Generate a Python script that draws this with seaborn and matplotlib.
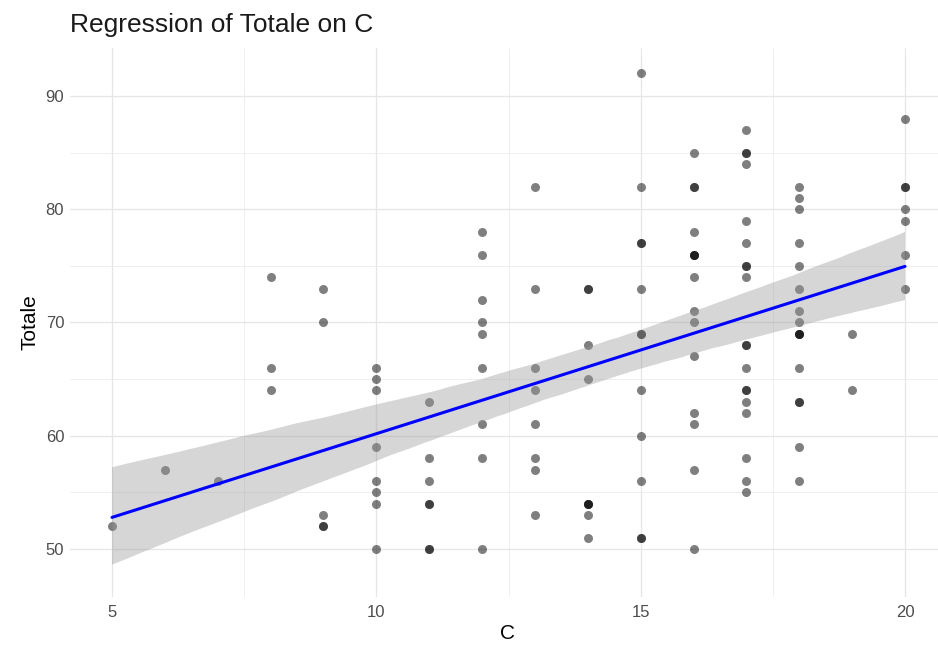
import numpy as np
import pandas as pd
import matplotlib
matplotlib.use("Agg")
import matplotlib.pyplot as plt
from matplotlib.ticker import MultipleLocator
import seaborn as sns

# values, grouped by C
C = ([5] + [6] + [7] + [8] * 3 + [9] * 5 + [10] * 8 + [11] * 7 + [12] * 9
     + [13] * 8 + [14] * 9 + [15] * 12 + [16] * 15 + [17] * 19 + [18] * 16
     + [19] * 2 + [20] * 7)
Totale = [
    52,
    57,
    56,
    74, 66, 64,
    73, 70, 53, 52, 52,
    66, 65, 64, 59, 56, 55, 54, 50,
    63, 58, 56, 54, 54, 50, 50,
    78, 76, 72, 70, 69, 66, 61, 58, 50,
    82, 73, 66, 64, 61, 58, 57, 53,
    73, 73, 68, 65, 54, 54, 54, 53, 51,
    92, 82, 77, 77, 73, 69, 69, 64, 60, 56, 51, 51,
    85, 82, 82, 78, 76, 76, 76, 74, 71, 70, 67, 62, 61, 57, 50,
    87, 85, 85, 84, 79, 77, 75, 75, 74, 68, 68, 66, 64, 64, 63, 62, 58, 56, 55,
    82, 81, 80, 77, 75, 73, 71, 70, 69, 69, 69, 66, 63, 63, 59, 56,
    69, 64,
    88, 82, 82, 80, 79, 76, 73,
]
x_ticks = [5, 10, 15, 20]
y_ticks = [50, 60, 70, 80, 90]

df = pd.DataFrame({"C": C, "Totale": Totale})

sns.set_theme(style="white")
plt.rcParams['font.family'] = ['Liberation Sans', 'DejaVu Sans']

W, H = 938, 649
xlo, xhi = 4.2, 20.75
ylo, yhi = 45.8, 94.2
# pixel placement of the panel (5 -> 112px, 20 -> 905px, 90 -> 96px, 50 -> 549px)
px_x = (905 - 112) / 15
px_y = (549 - 96) / 40
left = 112 - (5 - xlo) * px_x
right = 905 + (xhi - 20) * px_x
top = 96 - (yhi - 90) * px_y
bottom = 549 + (50 - ylo) * px_y

fig = plt.figure(figsize=(W / 100, H / 100), dpi=100)
ax = fig.add_axes([left / W, 1 - bottom / H, (right - left) / W, (bottom - top) / H])

sns.regplot(data=df, x="C", y="Totale", ax=ax, color="#999999", seed=1,
            scatter_kws={"color": "black", "alpha": 0.5, "s": 42, "linewidths": 0},
            line_kws={"color": "#0000ff", "linewidth": 2.2})

# ggplot-like grey ribbon
band = ax.collections[-1]
band.set_facecolor("#999999")
band.set_alpha(0.4)
band.set_edgecolor("none")

ax.set_xlim(xlo, xhi)
ax.set_ylim(ylo, yhi)
ax.set_xticks(x_ticks)
ax.set_yticks(y_ticks)
ax.xaxis.set_minor_locator(MultipleLocator(2.5))
ax.yaxis.set_minor_locator(MultipleLocator(5))
ax.grid(which="major", color="#e6e6e6", linewidth=0.9)
ax.grid(which="minor", color="#ededed", linewidth=0.6)
ax.set_axisbelow(True)
for s in ax.spines.values():
    s.set_visible(False)

ax.tick_params(which="both", length=0, labelsize=12, labelcolor="#4d4d4d")
ax.tick_params(axis="y", pad=4)
ax.tick_params(axis="x", pad=6)
ax.set_xlabel("C", fontsize=15, color="black", labelpad=3)
ax.set_ylabel("Totale", fontsize=15, color="black", labelpad=4)
ax.set_title("Regression of Totale on C", fontsize=19, loc="left", pad=12, color="#1a1a1a")

plt.savefig("out.png", dpi=100)
plt.close()
